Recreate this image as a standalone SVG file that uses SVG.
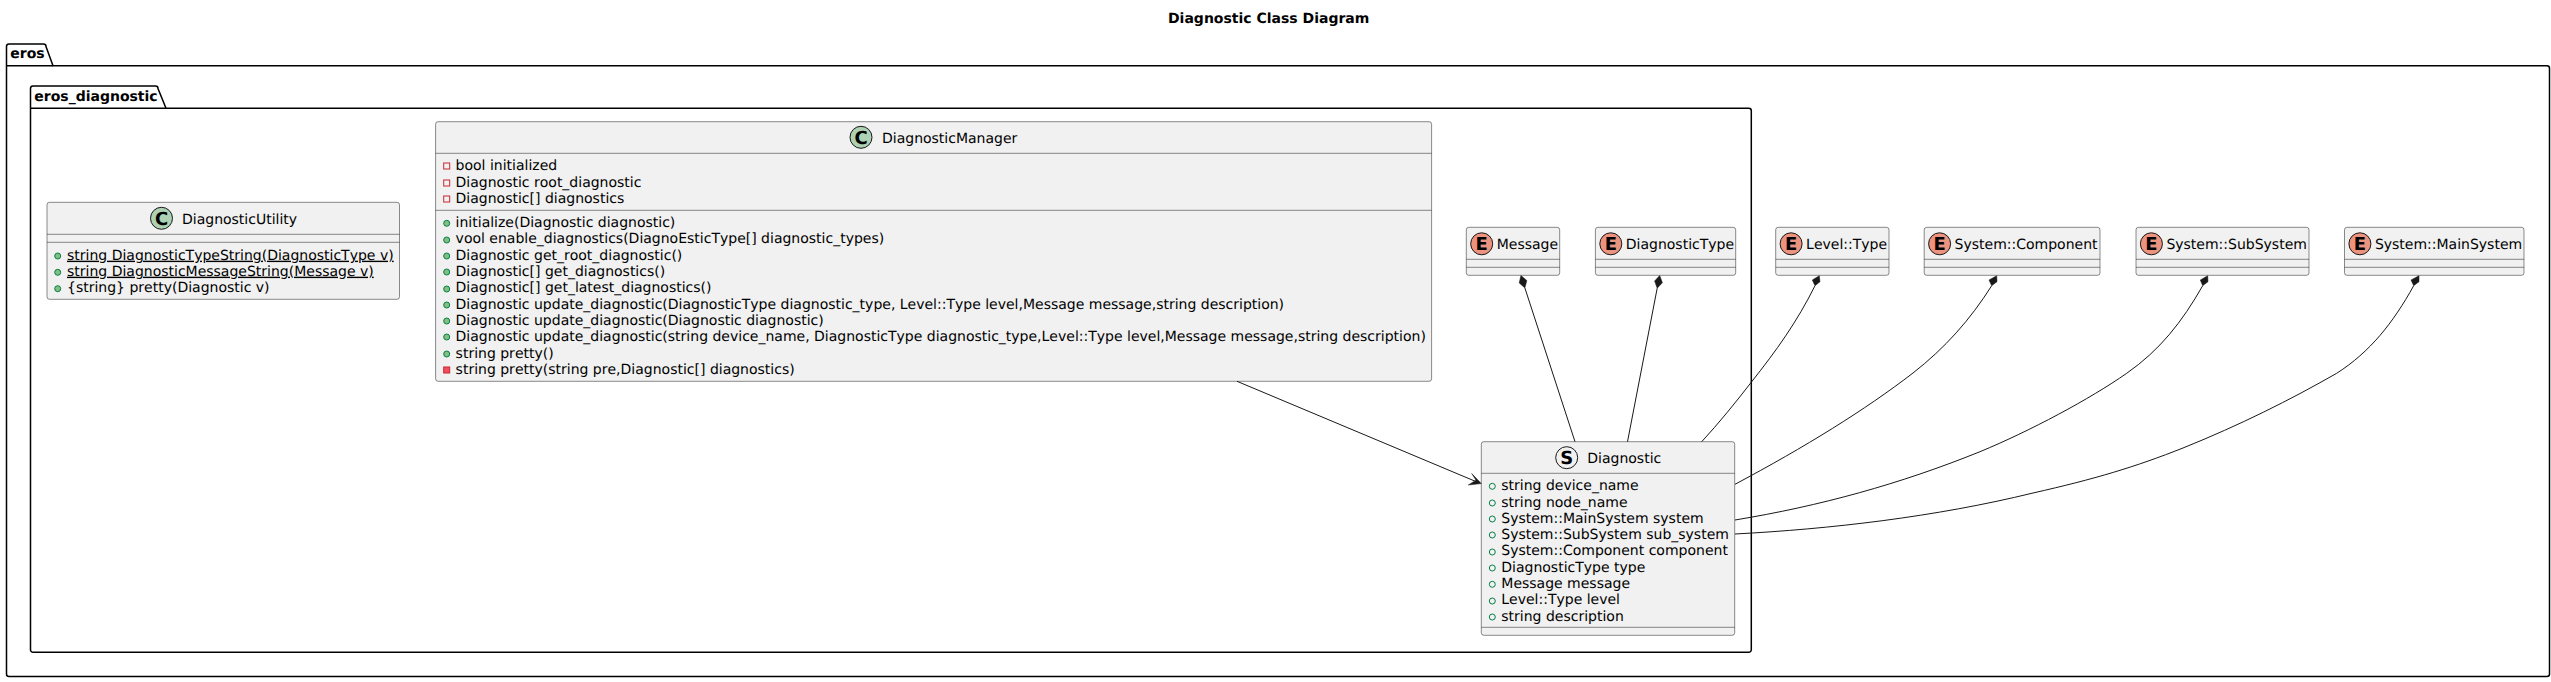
<svg xmlns="http://www.w3.org/2000/svg" width="2551" height="682" viewBox="0 0 2551 682">
<style>
text{font-family:"DejaVu Sans","Liberation Sans",sans-serif;font-size:14px;fill:#000;text-rendering:geometricPrecision;font-kerning:none}
.b{font-weight:bold}
.pk{fill:none;stroke:#000;stroke-width:1.5}
.box{fill:#F1F1F1;stroke:#181818;stroke-width:.5}
.sep{stroke:#181818;stroke-width:.5;fill:none}
.cc{fill:#ADD1B2;stroke:#181818;stroke-width:1}
.ce{fill:#EB937F;stroke:#181818;stroke-width:1}
.cs{fill:#F1F1F1;stroke:#181818;stroke-width:1}
.g{font-weight:bold;font-size:18px;text-anchor:middle}
.pub{fill:#84BE84;stroke:#038048;stroke-width:1}
.puh{fill:none;stroke:#038048;stroke-width:1}
.prh{fill:none;stroke:#C82930;stroke-width:1}
.prf{fill:#F24D5C;stroke:#C82930;stroke-width:1}
.u{text-decoration:underline}
.ln{fill:none;stroke:#181818;stroke-width:1}
.d{fill:#181818;stroke:#181818;stroke-width:.5}
</style>
<text id="title" class="b" x="1168" y="23">Diagnostic Class Diagram</text>
<g id="pkg-eros">
<path class="pk" d="M6.5,65.7V46.5a2.5,2.5 0 0 1 2.5,-2.5H43.5a2.5,2.5 0 0 1 2.5,2.5L53,65.7H2547a2.5,2.5 0 0 1 2.5,2.5V674a2.5,2.5 0 0 1 -2.5,2.5H9a2.5,2.5 0 0 1 -2.5,-2.5Z"/>
<path class="pk" d="M6.5,65.7H53"/>
<text class="b" x="10.3" y="58">eros</text>
</g>
<g id="pkg-eros_diagnostic">
<path class="pk" d="M30.5,108.3V88.5a2.5,2.5 0 0 1 2.5,-2.5H155.5a2.5,2.5 0 0 1 2.5,2.5L166,108.3H1748.8a2.5,2.5 0 0 1 2.5,2.5V649.8a2.5,2.5 0 0 1 -2.5,2.5H33a2.5,2.5 0 0 1 -2.5,-2.5Z"/>
<path class="pk" d="M30.5,108.3H166"/>
<text class="b" x="34.3" y="100.7">eros_diagnostic</text>
</g>
<g id="DiagnosticUtility">
<rect class="box" x="47" y="202.3" width="352.5" height="97" rx="2.5"/>
<path class="sep" d="M47,234.3H399.5M47,242.3H399.5"/>
<circle class="cc" cx="161.5" cy="218.3" r="11"/>
<text class="g" x="161.5" y="224.8">C</text>
<text x="182" y="223.5">DiagnosticUtility</text>
<circle class="pub" cx="57.7" cy="256" r="3"/>
<text class="u" x="67" y="259.7">string DiagnosticTypeString(DiagnosticType v)</text>
<circle class="pub" cx="57.7" cy="272.3" r="3"/>
<text class="u" x="67" y="275.7">string DiagnosticMessageString(Message v)</text>
<circle class="pub" cx="57.7" cy="288.7" r="3"/>
<text x="67" y="291.7">{string} pretty(Diagnostic v)</text>
</g>
<g id="DiagnosticManager">
<rect class="box" x="435.6" y="121.7" width="996" height="259.6" rx="2.5"/>
<path class="sep" d="M435.6,153.3H1431.6M435.6,210.3H1431.6"/>
<circle class="cc" cx="861" cy="137.3" r="11"/>
<text class="g" x="861" y="143.8">C</text>
<text x="882" y="142.7">DiagnosticManager</text>
<rect class="prh" x="443.7" y="163" width="6" height="6"/>
<text x="455.6" y="170">bool initialized</text>
<rect class="prh" x="443.7" y="180" width="6" height="6"/>
<text x="455.6" y="187">Diagnostic root_diagnostic</text>
<rect class="prh" x="443.7" y="196" width="6" height="6"/>
<text x="455.6" y="203">Diagnostic[] diagnostics</text>
<circle class="pub" cx="446.7" cy="223.3" r="3"/>
<text x="455.6" y="227">initialize(Diagnostic diagnostic)</text>
<circle class="pub" cx="446.7" cy="240" r="3"/>
<text x="455.6" y="243">vool enable_diagnostics(DiagnoEsticType[] diagnostic_types)</text>
<circle class="pub" cx="446.7" cy="256" r="3"/>
<text x="455.6" y="260">Diagnostic get_root_diagnostic()</text>
<circle class="pub" cx="446.7" cy="272" r="3"/>
<text x="455.6" y="276">Diagnostic[] get_diagnostics()</text>
<circle class="pub" cx="446.7" cy="289" r="3"/>
<text x="455.6" y="292">Diagnostic[] get_latest_diagnostics()</text>
<circle class="pub" cx="446.7" cy="305" r="3"/>
<text x="455.6" y="309">Diagnostic update_diagnostic(DiagnosticType diagnostic_type, Level::Type level,Message message,string description)</text>
<circle class="pub" cx="446.7" cy="321" r="3"/>
<text x="455.6" y="325">Diagnostic update_diagnostic(Diagnostic diagnostic)</text>
<circle class="pub" cx="446.7" cy="337" r="3"/>
<text x="455.6" y="341">Diagnostic update_diagnostic(string device_name, DiagnosticType diagnostic_type,Level::Type level,Message message,string description)</text>
<circle class="pub" cx="446.7" cy="354" r="3"/>
<text x="455.6" y="358">string pretty()</text>
<rect class="prf" x="443.7" y="367" width="6" height="6"/>
<text x="455.6" y="374">string pretty(string pre,Diagnostic[] diagnostics)</text>
</g>
<g id="Message">
<rect class="box" x="1466.3" y="227.3" width="93.4" height="48" rx="2.5"/>
<path class="sep" d="M1466.3,259.3H1559.7M1466.3,267.3H1559.7"/>
<circle class="ce" cx="1481.7" cy="243.8" r="11"/>
<text class="g" x="1481.7" y="250.3">E</text>
<text x="1496.7" y="249">Message</text>
</g>
<g id="DiagnosticType">
<rect class="box" x="1595.4" y="227.3" width="140.3" height="48" rx="2.5"/>
<path class="sep" d="M1595.4,259.3H1735.7M1595.4,267.3H1735.7"/>
<circle class="ce" cx="1610.8" cy="243.8" r="11"/>
<text class="g" x="1610.8" y="250.3">E</text>
<text x="1625.8" y="249">DiagnosticType</text>
</g>
<g id="Level-Type">
<rect class="box" x="1775.7" y="227.3" width="113.3" height="48" rx="2.5"/>
<path class="sep" d="M1775.7,259.3H1889M1775.7,267.3H1889"/>
<circle class="ce" cx="1791.1" cy="243.8" r="11"/>
<text class="g" x="1791.1" y="250.3">E</text>
<text x="1806.1" y="249">Level::Type</text>
</g>
<g id="System-Component">
<rect class="box" x="1924.2" y="227.3" width="175.8" height="48" rx="2.5"/>
<path class="sep" d="M1924.2,259.3H2100M1924.2,267.3H2100"/>
<circle class="ce" cx="1939.6" cy="243.8" r="11"/>
<text class="g" x="1939.6" y="250.3">E</text>
<text x="1954.6" y="249">System::Component</text>
</g>
<g id="System-SubSystem">
<rect class="box" x="2136" y="227.3" width="173" height="48" rx="2.5"/>
<path class="sep" d="M2136,259.3H2309M2136,267.3H2309"/>
<circle class="ce" cx="2151.4" cy="243.8" r="11"/>
<text class="g" x="2151.4" y="250.3">E</text>
<text x="2166.4" y="249">System::SubSystem</text>
</g>
<g id="System-MainSystem">
<rect class="box" x="2344.5" y="227.3" width="179.5" height="48" rx="2.5"/>
<path class="sep" d="M2344.5,259.3H2524M2344.5,267.3H2524"/>
<circle class="ce" cx="2359.9" cy="243.8" r="11"/>
<text class="g" x="2359.9" y="250.3">E</text>
<text x="2374.9" y="249">System::MainSystem</text>
</g>
<g id="Diagnostic">
<rect class="box" x="1481.3" y="441.7" width="253.4" height="193.6" rx="2.5"/>
<path class="sep" d="M1481.3,473.3H1734.7M1481.3,627.3H1734.7"/>
<circle class="cs" cx="1566.7" cy="457.7" r="11"/>
<text class="g" x="1566.7" y="464.2">S</text>
<text x="1587.3" y="462.7">Diagnostic</text>
<circle class="puh" cx="1492.3" cy="486.3" r="3"/>
<text x="1501.3" y="490">string device_name</text>
<circle class="puh" cx="1492.3" cy="503" r="3"/>
<text x="1501.3" y="507">string node_name</text>
<circle class="puh" cx="1492.3" cy="519" r="3"/>
<text x="1501.3" y="523">System::MainSystem system</text>
<circle class="puh" cx="1492.3" cy="535" r="3"/>
<text x="1501.3" y="539">System::SubSystem sub_system</text>
<circle class="puh" cx="1492.3" cy="552" r="3"/>
<text x="1501.3" y="555">System::Component component</text>
<circle class="puh" cx="1492.3" cy="568" r="3"/>
<text x="1501.3" y="572">DiagnosticType type</text>
<circle class="puh" cx="1492.3" cy="584.3" r="3"/>
<text x="1501.3" y="588">Message message</text>
<circle class="puh" cx="1492.3" cy="601" r="3"/>
<text x="1501.3" y="604">Level::Type level</text>
<circle class="puh" cx="1492.3" cy="617" r="3"/>
<text x="1501.3" y="621">string description</text>
</g>
<g id="connectors">
<path class="ln" d="M1237,381.3L1477,482"/>
<polygon class="d" points="1481.3,483.6 1471.7,473.5 1476,480.2 1468.3,485"/>
<path class="ln" d="M1524.9,288L1575,441.7"/>
<polygon class="d" points="1520.9,275.5 1526.8,280.5 1524.9,288 1519.2,282.9"/>
<path class="ln" d="M1657.2,288.2L1627.5,441.7"/>
<polygon class="d" points="1659.7,275.5 1662.4,282.7 1657.2,288.2 1654.6,281.1"/>
<path class="ln" d="M1815,285.7C1797,322 1776,351 1751.7,381.7C1736,402 1719,423 1701.7,441.7"/>
<polygon class="d" points="1819.3,275.7 1820,281.7 1815,285.7 1812.3,280"/>
<path class="ln" d="M1991.7,285.7C1970,320 1945,348 1913,373C1865,410 1805,447 1735,484.3"/>
<polygon class="d" points="1996.7,275.7 1997,281.7 1991.7,285.7 1989,280"/>
<path class="ln" d="M2202.7,285.7C2182,322 2160,350 2126.7,373.3C2090,399 2030,431 1980,451.7C1900,484 1820,506 1735,520"/>
<polygon class="d" points="2207.7,275.7 2208,281.7 2202.7,285.7 2200.3,280"/>
<path class="ln" d="M2413.7,285.7C2393,323 2370,352 2336.7,373.3C2290,400 2240,425 2183,448C2135,467 2095,479 2033,493C1935,517 1830,529 1735,534"/>
<polygon class="d" points="2419,275.7 2419,281.7 2413.7,285.7 2411,280"/>
</g>
</svg>
